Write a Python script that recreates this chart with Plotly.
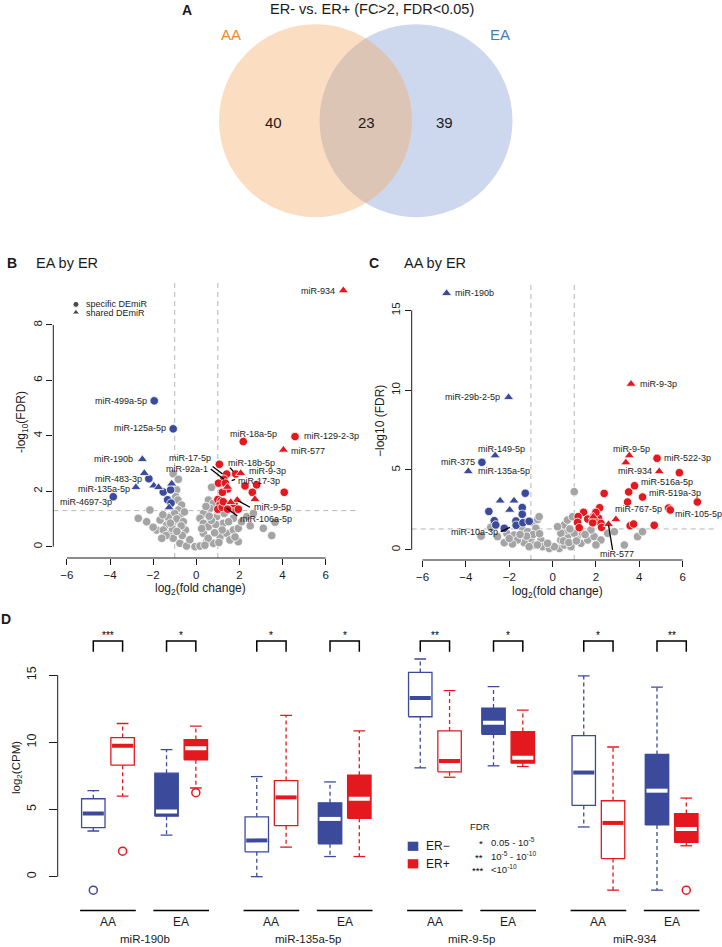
import plotly.graph_objects as go

W, H = 722, 947
FONT = "Liberation Sans, Arial, Helvetica, sans-serif"
BLUE = "#3B4A9B"
RED = "#E3191F"
GREY = "#A4A4A4"
INK = "#1a1a1a"

# ---------------- Panel A: Venn counts ----------------
venn_sets = ["AA", "EA"]
venn_counts = [40, 23, 39]          # AA only, shared, EA only

# ---------------- Panel B: EA by ER (log2FC, -log10 FDR) ----------------
b_grey_x = [-2.69, -2.15, -1.07, -0.83, -0.91, -0.95, -0.85, -0.68, -0.83, -0.76, -1.07, -1.37, -1.68, -1.84,
            -1.53, -1.22, -1.07, -0.76, -0.45, -0.06, 0.17, -1.2, -1.0, -0.9, -0.6, -0.5, -1.4, -1.6, -1.1,
            -0.7, -0.65, -0.3, -0.9, -1.3, -1.55, -1.2, -0.55, -2.0, -2.3,
            0.71, 0.56, 0.79, 0.64, 0.33, 0.17, 0.33, 0.56, 0.33, 0.48, 0.79, 1.1, 1.41, 1.72, 1.95, 1.95,
            1.56, 2.34, 2.65, 3.11, 3.5, 3.65, 1.25, 0.94, 1.72, 0.9, 1.2, 0.7, 1.0, 1.3, 1.5, 2.1, 0.45,
            0.6, 0.25, 0.55, 0.85, 1.05, 1.8, 2.5, 0.4]
b_grey_y = [1.02, 1.32, 2.63, 2.43, 2.05, 1.8, 1.68, 1.5, 1.32, 1.08, 0.9, 0.78, 0.96, 0.6,
            0.6, 0.48, 0.3, 0.12, 0.02, 0.0, 0.02, 1.1, 1.2, 1.0, 0.9, 0.6, 0.4, 0.3, 0.65,
            0.75, 0.4, 0.25, 0.55, 1.05, 1.15, 0.85, 1.25, 0.7, 0.9,
            2.14, 1.68, 1.56, 1.38, 1.2, 1.02, 0.84, 0.72, 0.48, 0.18, 0.12, 0.36, 0.48, 0.6, 0.66, 0.18,
            0.24, 1.08, 1.2, 0.66, 0.4, 0.88, 0.84, 1.08, 1.02, 0.8, 0.6, 0.95, 1.3, 1.2, 0.9, 0.9, 1.45,
            1.1, 0.65, 0.3, 0.5, 0.15, 0.35, 0.75, 0.05]
b_blue_spec_x = [-1.95, -1.07, -2.2, -1.53, -1.19, -3.85, -1.33, -1.17]
b_blue_spec_y = [5.26, 4.25, 2.45, 1.97, 2.05, 1.8, 1.69, 1.57]
b_blue_shared_x = [-2.5, -2.41, -1.97, -1.75, -1.14, -2.8, -1.26]
b_blue_shared_y = [3.15, 2.65, 2.2, 2.14, 2.27, 2.14, 1.41]
b_red_spec_x = [4.58, 2.18, 1.07, 1.83, 1.41, 1.28, 1.03, 1.35, 2.26, 2.8, 1.46, 1.21, 2.6, 4.08,
                1.0, 1.15, 1.1, 1.3, 1.5, 1.65, 1.85, 1.0, 1.2, 1.45, 1.75, 1.95, 1.25]
b_red_spec_y = [3.97, 3.79, 2.97, 2.62, 2.62, 2.43, 2.29, 2.29, 2.19, 2.23, 2.08, 1.96, 1.96, 1.96,
                1.7, 1.65, 1.5, 1.5, 1.45, 1.38, 1.35, 1.35, 1.42, 1.35, 1.55, 1.35, 1.62]
b_red_shared_x = [6.82, 4.04, 2.06, 1.45, 2.72, 1.9, 1.6]
b_red_shared_y = [9.24, 3.49, 2.65, 2.15, 1.71, 1.68, 1.6]
b_labels = [("miR-934", 6.51, 9.23, "right"), ("miR-129-2-3p", 4.89, 3.99, "left"),
            ("miR-577", 4.31, 3.46, "left"), ("miR-18a-5p", 2.64, 4.06, "center"),
            ("miR-17-5p", 0.77, 3.19, "right"), ("miR-92a-1", 0.64, 2.80, "right"),
            ("miR-18b-5p", 1.36, 3.01, "left"), ("miR-9-3p", 2.34, 2.72, "left"),
            ("miR-17-3p", 1.84, 2.38, "left"), ("miR-9-5p", 2.57, 1.42, "left"),
            ("miR-106a-5p", 1.92, 1.0, "left"), ("miR-499a-5p", -2.19, 5.26, "right"),
            ("miR-125a-5p", -1.3, 4.27, "right"), ("miR-190b", -2.84, 3.15, "right"),
            ("miR-483-3p", -2.43, 2.44, "right"), ("miR-135a-5p", -2.98, 2.08, "right"),
            ("miR-4697-3p", -3.8, 1.6, "right")]
b_leaders = [((0.76, 2.89), (1.22, 2.62)), ((0.67, 2.80), (1.28, 2.43)), ((1.56, 2.85), (1.72, 2.71)),
             ((1.64, 2.38), (1.8, 2.43)), ((1.95, 1.65), (2.49, 1.42)), ((1.41, 1.39), (1.9, 1.11))]

# ---------------- Panel C: AA by ER ----------------
c_grey_x = [-2.85, -2.54, -2.11, -1.77, -1.38, -1.15, -0.85, -0.69, -0.62, -0.77, -1.0, -1.31, -1.62, -1.85,
            -2.23, -0.54, -0.46, -0.15, 0.31, 0.54, 0.69, 0.62, 0.54, 0.69, 0.92, 1.15, 1.31, 1.62, 1.92,
            2.23, 2.54, 2.85, 3.31, 3.92, 4.15, 1.0, 1.38, 1.77, 0.38, 0.08, -0.85, -1.08, -0.23, 0.85,
            0.38, 0.23, 1.0, -3.3, -0.9, -0.6, -1.2, -0.7, 0.5, 0.75, 1.1, 0.8, 1.5, 2.0, -1.5, -2.0]
c_grey_y = [1.4, 0.82, 1.02, 0.92, 1.24, 1.13, 1.65, 1.9, 2.07, 1.34, 0.65, 0.44, 0.61, 0.36,
            0.44, 0.6, 0.19, 0.08, 0.08, 0.29, 0.82, 1.23, 1.55, 1.86, 2.07, 0.82, 0.4, 0.61, 0.82,
            0.61, 1.03, 1.13, 0.29, 0.82, 1.13, 1.03, 1.03, 1.24, 0.6, 0.19, 0.29, 0.19, 0.4, 0.19,
            1.03, 1.44, 3.64, 0.85, 0.95, 1.0, 0.85, 0.3, 0.55, 0.45, 0.55, 1.3, 0.95, 0.3, 0.95, 0.7]
c_blue_spec_x = [-3.26, -1.26, -1.4, -1.4, -2.94, -2.69, -2.62, -1.69, -1.68, -1.37, -1.08, -2.23]
c_blue_spec_y = [5.48, 3.54, 2.64, 2.22, 2.4, 1.82, 1.55, 1.8, 1.53, 1.69, 1.78, 1.34]
c_blue_shared_x = [-4.89, -2.03, -2.65, -3.89, -2.42, -1.78, -1.98]
c_blue_shared_y = [16.07, 9.55, 5.9, 4.91, 3.07, 3.07, 2.49]
c_red_spec_x = [4.82, 5.85, 3.78, 3.51, 4.15, 3.46, 6.68, 5.35, 5.43, 2.38, 2.17, 1.91, 2.12, 1.43,
                1.18, 1.62, 2.0, 1.15, 1.23, 2.23, 2.26, 1.85, 3.58, 3.74, 4.69]
c_red_spec_y = [5.73, 4.83, 4.01, 3.62, 3.30, 2.99, 2.99, 2.61, 2.49, 3.53, 2.63, 2.13, 1.97, 2.34,
                2.07, 1.92, 2.34, 1.71, 1.38, 1.65, 1.4, 1.69, 1.5, 1.61, 1.53]
c_red_shared_x = [3.62, 3.54, 3.38, 4.92, 1.88, 2.92, 2.58]
c_red_shared_y = [10.39, 5.9, 5.46, 4.91, 2.07, 1.90, 1.59]
c_labels = [("miR-190b", -4.59, 16.08, "left"), ("miR-29b-2-5p", -2.35, 9.55, "right"),
            ("miR-149-5p", -2.35, 6.31, "center"), ("miR-375", -3.51, 5.48, "right"),
            ("miR-135a-5p", -3.54, 4.92, "left"), ("miR-10a-3p", -2.42, 1.13, "right"),
            ("miR-9-3p", 3.92, 10.39, "left"), ("miR-9-5p", 3.65, 6.31, "center"),
            ("miR-522-3p", 5.04, 5.73, "left"), ("miR-934", 4.66, 4.92, "right"),
            ("miR-516a-5p", 4.0, 4.23, "left"), ("miR-519a-3p", 4.35, 3.57, "left"),
            ("miR-767-5p", 5.12, 2.53, "right"), ("miR-105-5p", 5.57, 2.22, "left"),
            ("miR-577", 2.98, -0.29, "center")]
c_leaders = [((-2.39, 1.13), (-1.97, 1.40)), ((2.58, 1.55), (2.77, -0.02))]

# ---------------- Panel D: boxplots of log2(CPM) ----------------
mirnas = ["miR-190b", "miR-135a-5p", "miR-9-5p", "miR-934"]
cohorts = ["AA", "EA"]
statuses = ["ER−", "ER+"]
# order: miRNA -> cohort -> ER status
box_lo = [3.4, 6.0, 3.1, 6.6,   0.0, 2.2, 1.5, 1.5,   8.1, 7.4, 8.25, 8.2,   3.7, -1.0, -1.0, 2.3]
box_q1 = [3.65, 8.3, 4.5, 8.7,  1.85, 3.8, 2.45, 4.35, 11.9, 7.8, 10.6, 8.45, 5.3, 1.35, 3.85, 2.55]
box_med = [4.7, 9.75, 4.85, 9.55, 2.7, 5.9, 4.3, 5.8,  13.3, 8.6, 11.45, 8.85, 7.75, 4.0, 6.4, 3.55]
box_q3 = [5.8, 10.35, 7.7, 10.2, 4.45, 7.15, 5.5, 7.55, 15.2, 10.85, 12.55, 10.8, 10.5, 5.65, 9.1, 4.7]
box_hi = [6.4, 11.4, 9.45, 11.2, 7.45, 12.0, 7.05, 10.85, 16.2, 13.85, 14.15, 12.4, 14.95, 9.65, 14.1, 5.85]
box_out = [[-1.0], [1.9], [], [6.25], [], [], [], [], [], [], [], [], [], [], [], [-1.0]]
sig_stars = ["***", "*", "*", "*", "**", "*", "*", "**"]
fdr_legend = [("*", "0.05 - 10<sup>-5</sup>"), ("**", "10<sup>-5</sup> - 10<sup>-10</sup>"),
              ("***", "&lt;10<sup>-10</sup>")]


def PX(x):
    return x / W


def PY(y):
    return 1 - y / H


fig = go.Figure()
shapes = []
ann = []


def text(t, x, y, size=9, xanchor="center", xref="paper", yref="paper", color=INK, bold=False,
         angle=0, yanchor="middle"):
    if bold:
        t = "<b>" + t + "</b>"
    ann.append(dict(text=t, x=x, y=y, xref=xref, yref=yref, xanchor=xanchor, yanchor=yanchor,
                    showarrow=False, textangle=angle, font=dict(size=size, color=color, family=FONT)))


# ---------- Panel A ----------
fig.add_trace(go.Scatter(x=[], y=[], xaxis="x", yaxis="y", showlegend=False))
text("A", PX(187), PY(10), size=14, bold=True)
text("ER- vs. ER+ (FC&gt;2, FDR&lt;0.05)", PX(372), PY(9), size=14.5)
circ_r = 96.5
shapes.append(dict(type="circle", xref="x", yref="y", x0=416 - circ_r, x1=416 + circ_r,
                   y0=120.7 - circ_r, y1=120.7 + circ_r, line=dict(width=0),
                   fillcolor="rgba(130,155,210,0.4)", layer="below"))
shapes.append(dict(type="circle", xref="x", yref="y", x0=315.5 - circ_r, x1=315.5 + circ_r,
                   y0=120.7 - circ_r, y1=120.7 + circ_r, line=dict(width=0),
                   fillcolor="rgba(245,170,100,0.4)", layer="below"))
text(venn_sets[0], 231, 34, size=15, xref="x", yref="y", color="#F08A2C")
text(venn_sets[1], 500, 34, size=15, xref="x", yref="y", color="#3C7FC1")
for cnt, cx in zip(venn_counts, [273, 366, 444]):
    text(str(cnt), cx, 122, size=15, xref="x", yref="y")


# ---------- Volcano panels ----------
def volcano(xa, ya, grey, blue_s, blue_t, red_s, red_t):
    def sc(xs, ys, color, symbol, size):
        fig.add_trace(go.Scatter(x=xs, y=ys, mode="markers", xaxis=xa, yaxis=ya, showlegend=False,
                                 hoverinfo="skip",
                                 marker=dict(color=color, symbol=symbol, size=size,
                                             line=dict(color="white", width=0.8))))
    sc(grey[0], grey[1], GREY, "circle", 8.5)
    sc(blue_s[0], blue_s[1], BLUE, "circle", 8.5)
    sc(red_s[0], red_s[1], RED, "circle", 8.5)
    sc(blue_t[0], blue_t[1], BLUE, "triangle-up", 9)
    sc(red_t[0], red_t[1], RED, "triangle-up", 9)


for xa, ya in [("x2", "y2"), ("x3", "y3")]:
    for v in (-1, 1):
        shapes.append(dict(type="line", xref=xa, yref=ya + " domain", x0=v, x1=v, y0=0, y1=1,
                           line=dict(color="#B5B5B5", width=1, dash="5px,4px"), layer="below"))
    shapes.append(dict(type="line", xref=xa + " domain", yref=ya, x0=0, x1=1, y0=1.3, y1=1.3,
                       line=dict(color="#B5B5B5", width=1, dash="5px,4px"), layer="below"))
    shapes.append(dict(type="line", xref=xa, yref=ya + " domain", x0=-6, x1=6, y0=0, y1=0,
                       line=dict(color=INK, width=1)))

shapes.append(dict(type="line", xref="x2 domain", yref="y2", x0=0, x1=0, y0=0, y1=8,
                   line=dict(color=INK, width=1)))
shapes.append(dict(type="line", xref="x3 domain", yref="y3", x0=0, x1=0, y0=0, y1=15,
                   line=dict(color=INK, width=1)))

volcano("x2", "y2", (b_grey_x, b_grey_y), (b_blue_spec_x, b_blue_spec_y), (b_blue_shared_x, b_blue_shared_y),
        (b_red_spec_x, b_red_spec_y), (b_red_shared_x, b_red_shared_y))
volcano("x3", "y3", (c_grey_x, c_grey_y), (c_blue_spec_x, c_blue_spec_y), (c_blue_shared_x, c_blue_shared_y),
        (c_red_spec_x, c_red_spec_y), (c_red_shared_x, c_red_shared_y))

# legend of panel B
fig.add_trace(go.Scatter(x=[-5.58, -5.58], y=[8.74, 8.45], mode="markers", xaxis="x2", yaxis="y2",
                         showlegend=False, hoverinfo="skip",
                         marker=dict(color="black", symbol=["circle", "triangle-up"], size=[6, 6.5])))
text("specific DEmiR", -5.2, 8.76, size=9, xanchor="left", xref="x2", yref="y2")
text("shared DEmiR", -5.2, 8.43, size=9, xanchor="left", xref="x2", yref="y2")

for labels, leaders, xa, ya in [(b_labels, b_leaders, "x2", "y2"), (c_labels, c_leaders, "x3", "y3")]:
    for t, lx, ly, anc in labels:
        text(t, lx, ly, size=9, xanchor=anc, xref=xa, yref=ya)
    for (x0, y0), (x1, y1) in leaders:
        shapes.append(dict(type="line", xref=xa, yref=ya, x0=x0, y0=y0, x1=x1, y1=y1,
                           line=dict(color="black", width=1.3)))

text("B", PX(12), PY(263), size=14, bold=True)
text("EA by ER", PX(34), PY(263), size=14.5, xanchor="left")
text("C", PX(374), PY(263), size=14, bold=True)
text("AA by ER", PX(402), PY(263), size=14.5, xanchor="left")
text("-log<sub>10</sub>(FDR)", PX(22), PY(422), size=12, angle=-90)
text("−log10 (FDR)", PX(380), PY(421), size=12, angle=-90)
text("log<sub>2</sub>(fold change)", PX(200), PY(589), size=12)
text("log<sub>2</sub>(fold change)", PX(557), PY(592), size=12)


# ---------- Panel D ----------
def pos(i_m, i_c, i_s):
    return 1 + i_m * 5.58 + i_c * 2.5 + i_s


HW = 0.4
k = 0
for im, m in enumerate(mirnas):
    for ic, c in enumerate(cohorts):
        for iss, s in enumerate(statuses):
            p = pos(im, ic, iss)
            col = BLUE if iss == 0 else RED
            filled = (c == "EA")
            lo, q1, md, q3, hi = box_lo[k], box_q1[k], box_med[k], box_q3[k], box_hi[k]
            common = dict(xaxis="x4", yaxis="y4", showlegend=False, hoverinfo="skip")
            fig.add_trace(go.Scatter(x=[p, p, None, p, p], y=[q3, hi, None, q1, lo], mode="lines",
                                     line=dict(color=col, width=1.3, dash="4px,3px"), **common))
            fig.add_trace(go.Scatter(x=[p - 0.2, p + 0.2, None, p - 0.2, p + 0.2], y=[hi, hi, None, lo, lo],
                                     mode="lines", line=dict(color=col, width=1.3), **common))
            fig.add_trace(go.Scatter(x=[p - HW, p + HW, p + HW, p - HW, p - HW], y=[q1, q1, q3, q3, q1],
                                     mode="lines", fill="toself", fillcolor=col if filled else "white",
                                     line=dict(color=col, width=1.3), **common))
            fig.add_trace(go.Scatter(x=[p - HW + 0.04, p + HW - 0.04], y=[md, md], mode="lines",
                                     line=dict(color="white" if filled else col, width=4), **common))
            if box_out[k]:
                fig.add_trace(go.Scatter(x=[p] * len(box_out[k]), y=box_out[k], mode="markers",
                                         marker=dict(symbol="circle-open", size=8, color=col,
                                                     line=dict(width=1.5, color=col)), **common))
            k += 1
        # bracket + stars
        p0, p1 = pos(im, ic, 0), pos(im, ic, 1)
        fig.add_trace(go.Scatter(x=[p0, p0, p1, p1], y=[16.74, 17.54, 17.54, 16.74], mode="lines",
                                 line=dict(color="black", width=1.5), xaxis="x4", yaxis="y4",
                                 showlegend=False, hoverinfo="skip"))
        text(sig_stars[im * 2 + ic], (p0 + p1) / 2, 17.95, size=10, xref="x4", yref="y4", color="black")
        cx = (p0 + p1) / 2
        shapes.append(dict(type="line", xref="x4", yref="paper", x0=cx - 0.95, x1=cx + 0.95,
                           y0=PY(910.5), y1=PY(910.5), line=dict(color="black", width=1.3)))
        text(c, cx, PY(921.5), size=12, xref="x4")
    text(m, pos(im, 0, 0) + 1.75, PY(939), size=11.5, xref="x4")

shapes.append(dict(type="line", xref="x4 domain", yref="y4", x0=0, x1=0, y0=0, y1=15,
                   line=dict(color=INK, width=1)))
text("D", PX(6), PY(619), size=14, bold=True)
text("log<sub>2</sub>(CPM)", PX(17), PY(768), size=11.5, angle=-90)

# legend of panel D
for yy, col, lab in [(846.3, BLUE, statuses[0]), (863.8, RED, statuses[1])]:
    shapes.append(dict(type="rect", xref="paper", yref="paper", x0=PX(407.7), x1=PX(418.3),
                       y0=PY(yy + 4.6), y1=PY(yy - 4.6), fillcolor=col, line=dict(width=0)))
    text(lab, PX(424), PY(yy), size=12, xanchor="left")
text("FDR", PX(467.5), PY(826.7), size=9.5, xanchor="left")
for i, (st, lab) in enumerate(fdr_legend):
    yy = 842 + i * 13.5
    text(st, PX(485), PY(yy + 1.5), size=9.5, xanchor="right", color="black")
    text(lab, PX(488.5), PY(yy), size=9.5, xanchor="left")

# ---------- Layout ----------
tickfont = dict(size=11.5, color=INK, family=FONT)
ax_common = dict(showgrid=False, zeroline=False, showline=False, ticks="outside", tickcolor=INK,
                 tickwidth=1, tickfont=tickfont)
fig.update_layout(
    width=W, height=H, margin=dict(l=0, r=0, t=0, b=0),
    paper_bgcolor="white", plot_bgcolor="rgba(0,0,0,0)",
    font=dict(family=FONT, color=INK), showlegend=False,
    xaxis=dict(domain=[PX(200), PX(530)], range=[200, 530], visible=False, anchor="y"),
    yaxis=dict(domain=[PY(240), PY(0)], range=[240, 0], visible=False, anchor="x"),
    xaxis2=dict(domain=[PX(53.3), PX(358)], range=[-6.63, 7.5], anchor="y2",
                tickvals=[-6, -4, -2, 0, 2, 4, 6], ticklen=6, **ax_common),
    yaxis2=dict(domain=[PY(558), PY(280)], range=[-0.41, 9.62], anchor="x2",
                tickvals=[0, 2, 4, 6, 8], ticklen=6, tickangle=-90, **ax_common),
    xaxis3=dict(domain=[PX(411.7), PX(716)], range=[-6.5, 7.54], anchor="y3",
                tickvals=[-6, -4, -2, 0, 2, 4, 6], ticklen=6, **ax_common),
    yaxis3=dict(domain=[PY(560), PY(283)], range=[-0.646, 16.72], anchor="x3",
                tickvals=[0, 5, 10, 15], ticklen=6, tickangle=-90, **ax_common),
    xaxis4=dict(domain=[PX(57.7), PX(715)], range=[-0.215, 22.22], anchor="y4", visible=False),
    yaxis4=dict(domain=[PY(900), PY(630)], range=[-1.734, 18.356], anchor="x4",
                tickvals=[0, 5, 10, 15], ticklen=8, tickangle=-90, ticklabelstandoff=8,
                **{**ax_common, "tickfont": dict(size=12.5, color=INK, family=FONT)}),
    shapes=shapes, annotations=ann,
)
fig.write_html("out.html", config={"displayModeBar": False},
               post_script="document.body.style.margin='0px';document.body.style.overflow='hidden';")
